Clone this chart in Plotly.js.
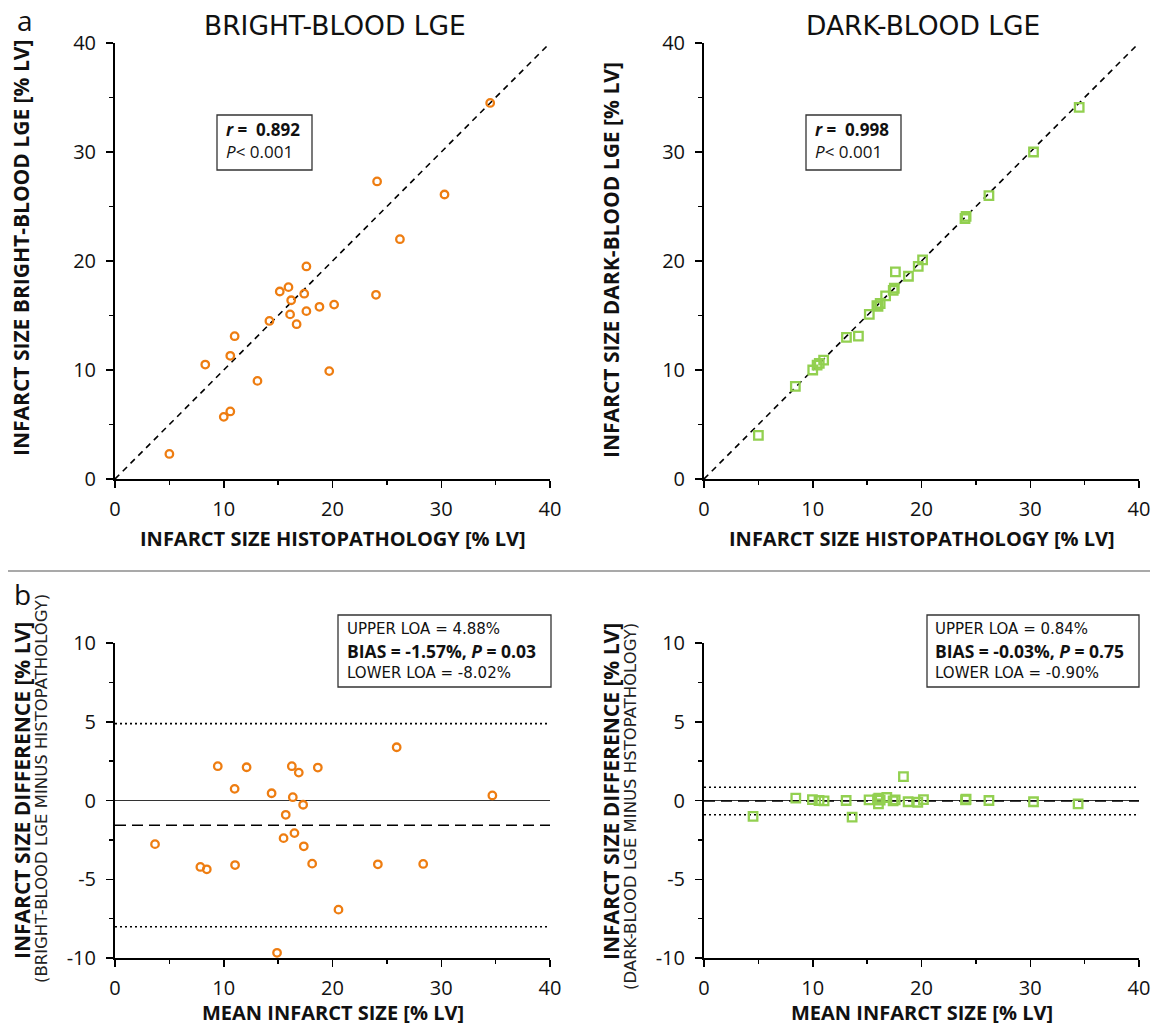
<!DOCTYPE html>
<html>
<head>
<meta charset="utf-8">
<script src="https://cdn.plot.ly/plotly-3.0.1.min.js"></script>
<style>
  html, body { margin: 0; padding: 0; background: #fff; }
  #chart { width: 1158px; height: 1027px; }
</style>
</head>
<body>
<div id="chart"></div>
<script>
// ---------- DATA ----------
// Panel a, left: histopathology vs bright-blood LGE
const histoBright = [34.5, 24.1, 30.3, 26.2, 17.6, 15.95, 15.15, 17.4, 16.2, 24.0, 20.15, 18.8, 17.6, 16.1, 14.2, 16.7, 11.0, 10.6, 8.3, 19.7, 13.1, 10.6, 10.0, 5.0];
const brightLGE   = [34.5, 27.3, 26.1, 22.0, 19.5, 17.6, 17.2, 17.0, 16.4, 16.9, 16.0, 15.8, 15.4, 15.1, 14.5, 14.2, 13.1, 11.3, 10.5, 9.9, 9.0, 6.2, 5.7, 2.3];
// Panel a, right: histopathology vs dark-blood LGE
const histoDark = [34.5, 30.3, 26.2, 24.0, 24.1, 20.1, 19.7, 17.6, 18.8, 17.5, 17.4, 16.7, 16.2, 16.0, 15.9, 15.2, 14.2, 13.1, 11.0, 10.6, 10.4, 10.0, 8.4, 5.0];
const darkLGE   = [34.1, 30.0, 26.0, 23.9, 24.1, 20.1, 19.5, 19.0, 18.6, 17.5, 17.3, 16.8, 16.1, 15.85, 15.9, 15.1, 13.1, 13.0, 10.9, 10.6, 10.45, 10.0, 8.5, 4.0];
// Identity line end points
const identity = [0, 40];
// Panel b, left: Bland-Altman bright-blood
const baBrightMean = [9.45, 12.1, 16.26, 16.9, 18.65, 25.9, 11.0, 14.4, 16.35, 17.3, 34.7, 15.7, 3.68, 15.5, 16.5, 17.36, 7.85, 8.44, 11.04, 18.13, 24.17, 28.34, 20.55, 14.9];
const baBrightDiff = [2.18, 2.11, 2.18, 1.77, 2.09, 3.38, 0.74, 0.46, 0.21, -0.27, 0.32, -0.91, -2.77, -2.39, -2.07, -2.91, -4.22, -4.37, -4.10, -4.01, -4.05, -4.03, -6.93, -9.67];
// Panel b, right: Bland-Altman dark-blood
const baDarkMean = [4.51, 8.44, 9.97, 10.58, 11.04, 13.07, 13.62, 15.18, 15.98, 16.04, 16.07, 16.2, 16.81, 17.39, 17.58, 18.34, 18.77, 19.66, 20.18, 24.05, 24.1, 26.2, 30.3, 34.4];
const baDarkDiff = [-1.01, 0.15, 0.06, 0.0, -0.02, 0.0, -1.06, 0.04, 0.08, -0.21, 0.15, 0.02, 0.19, -0.02, 0.04, 1.52, -0.08, -0.11, 0.06, 0.04, 0.08, 0.0, -0.08, -0.21];
// Limits of agreement [upper, bias, lower]
const brightLimits = [4.88, -1.57, -8.02];
const darkLimits   = [0.84, -0.03, -0.90];
// Tick labels
const scatterTicks = [0, 10, 20, 30, 40];
const scatterTickText = ['0', '10', '20', '30', '40'];
const diffTicks = [-10, -5, 0, 5, 10];
const diffTickText = ['-10', '-5', '0', '5', '10'];

// ---------- STYLE ----------
const W = 1158, H = 1027;
const px = v => v / W;
const py = v => 1 - v / H;
const ORANGE = '#EE7D11';
const GREEN = '#92D050';
const FONT = 'Open Sans, Liberation Sans, sans-serif';
const WIDE = 'DejaVu Sans, Open Sans, sans-serif';
const TXT = '#111';

const baseAxis = {
  showline: true, linecolor: '#000', linewidth: 2,
  ticks: 'outside', ticklen: 7, tickwidth: 1.5, tickcolor: '#000',
  showgrid: false, zeroline: false, mirror: false,
  tickfont: { family: FONT, size: 20, color: TXT },
  tickmode: 'array', fixedrange: true
};
function minorTicks(step) {
  return { tickmode: 'linear', tick0: 0, dtick: step, ticks: 'outside', ticklen: 4, tickwidth: 1.5, tickcolor: '#000', showgrid: false };
}
function xAx(domain, anchor) {
  return Object.assign({}, baseAxis, {
    domain: domain, anchor: anchor, range: [0, 40],
    tickvals: scatterTicks, ticktext: scatterTickText,
    minor: minorTicks(5), ticklabelstandoff: 4
  });
}
function yScatter(domain, anchor) {
  return Object.assign({}, baseAxis, {
    domain: domain, anchor: anchor, range: [0, 40],
    tickvals: scatterTicks, ticktext: scatterTickText,
    minor: minorTicks(5), ticklabelstandoff: 6
  });
}
function yDiff(domain, anchor) {
  return Object.assign({}, baseAxis, {
    domain: domain, anchor: anchor, range: [-10, 10],
    tickvals: diffTicks, ticktext: diffTickText,
    minor: minorTicks(2.5),
    zeroline: true, zerolinecolor: '#333', zerolinewidth: 1.2,
    ticklabelstandoff: 6
  });
}

const dX = { L: [px(115), px(550)], R: [px(704), px(1139)] };
const dY = { T: [py(479), py(43)], B: [py(958), py(643)] };

function hline(xa, ya, yv, dash, width) {
  return { x: identity, y: [yv, yv], xaxis: xa, yaxis: ya, mode: 'lines',
    line: { color: '#000', width: width, dash: dash }, hoverinfo: 'skip', showlegend: false };
}
const circle = { symbol: 'circle-open', size: 7.5, line: { color: ORANGE, width: 2.3 }, color: ORANGE };
const square = { symbol: 'square-open', size: 8.5, line: { color: GREEN, width: 2.3 }, color: GREEN };

const traces = [
  { x: identity, y: identity, xaxis: 'x', yaxis: 'y', mode: 'lines', line: { color: '#000', width: 1.6, dash: '6px,5px' }, showlegend: false, hoverinfo: 'skip' },
  { x: identity, y: identity, xaxis: 'x2', yaxis: 'y2', mode: 'lines', line: { color: '#000', width: 1.6, dash: '6px,5px' }, showlegend: false, hoverinfo: 'skip' },
  hline('x3', 'y3', brightLimits[0], '2px,3px', 1.6),
  hline('x3', 'y3', brightLimits[1], '11px,6px', 1.6),
  hline('x3', 'y3', brightLimits[2], '2px,3px', 1.6),
  hline('x4', 'y4', darkLimits[0], '2px,3px', 1.6),
  hline('x4', 'y4', darkLimits[1], '11px,6px', 1.6),
  hline('x4', 'y4', darkLimits[2], '2px,3px', 1.6),
  { x: histoBright, y: brightLGE, xaxis: 'x', yaxis: 'y', mode: 'markers', marker: circle, name: 'Bright-blood LGE', showlegend: false },
  { x: histoDark, y: darkLGE, xaxis: 'x2', yaxis: 'y2', mode: 'markers', marker: square, name: 'Dark-blood LGE', showlegend: false },
  { x: baBrightMean, y: baBrightDiff, xaxis: 'x3', yaxis: 'y3', mode: 'markers', marker: circle, name: 'Bright-blood difference', showlegend: false },
  { x: baDarkMean, y: baDarkDiff, xaxis: 'x4', yaxis: 'y4', mode: 'markers', marker: square, name: 'Dark-blood difference', showlegend: false }
];

function ann(text, x, y, opts) {
  return Object.assign({ text: text, xref: 'paper', yref: 'paper', x: px(x), y: py(y),
    xanchor: 'center', yanchor: 'middle', showarrow: false,
    font: { family: FONT, size: 18, color: TXT } }, opts || {});
}
const xTitleFont = { family: FONT, size: 20, color: TXT };
const yTitleFont = { family: FONT, size: 21, color: TXT };
const headFont = { family: WIDE, size: 26.5, color: TXT };
const boxFont = { family: WIDE, size: 15, color: TXT };
const boxBoldFont = { family: FONT, size: 17.5, color: TXT };
const rFont = { family: FONT, size: 17, color: TXT };
const subFont = { family: WIDE, size: 16.5, color: '#222' };

const annotations = [
  ann('a', 25, 20, { font: { family: FONT, size: 28, color: TXT } }),
  ann('b', 22, 594, { font: { family: FONT, size: 28, color: TXT } }),
  ann('BRIGHT-BLOOD LGE', 335, 25, { font: headFont }),
  ann('DARK-BLOOD LGE', 923, 25, { font: headFont }),
  ann('<b>INFARCT SIZE HISTOPATHOLOGY [% LV]</b>', 333, 538, { font: xTitleFont }),
  ann('<b>INFARCT SIZE HISTOPATHOLOGY [% LV]</b>', 922, 538, { font: xTitleFont }),
  ann('<b>MEAN INFARCT SIZE [% LV]</b>', 333, 1012, { font: xTitleFont }),
  ann('<b>MEAN INFARCT SIZE [% LV]</b>', 922, 1012, { font: xTitleFont }),
  ann('<b>INFARCT SIZE BRIGHT-BLOOD LGE [% LV]</b>', 21, 248, { font: yTitleFont, textangle: -90 }),
  ann('<b>INFARCT SIZE DARK-BLOOD LGE [% LV]</b>', 611, 260, { font: yTitleFont, textangle: -90 }),
  ann('<b>INFARCT SIZE DIFFERENCE [% LV]</b>', 22, 791, { font: yTitleFont, textangle: -90 }),
  ann('(BRIGHT-BLOOD LGE MINUS HISTOPATHOLOGY)', 41, 789, { font: subFont, textangle: -90 }),
  ann('<b>INFARCT SIZE DIFFERENCE [% LV]</b>', 611, 791, { font: yTitleFont, textangle: -90 }),
  ann('(DARK-BLOOD LGE MINUS HSTOPATHOLOGY)', 630, 807, { font: subFont, textangle: -90 }),
  ann('<b><i>r</i> =  0.892</b>', 224, 129, { xanchor: 'left', font: rFont }),
  ann('<i>P</i>< 0.001', 224, 152, { xanchor: 'left', font: rFont }),
  ann('<b><i>r</i> =  0.998</b>', 813, 129, { xanchor: 'left', font: rFont }),
  ann('<i>P</i>< 0.001', 813, 152, { xanchor: 'left', font: rFont }),
  ann('UPPER LOA = 4.88%', 345, 629, { xanchor: 'left', font: boxFont }),
  ann('<b>BIAS = -1.57%, <i>P</i> = 0.03</b>', 345, 651, { xanchor: 'left', font: boxBoldFont }),
  ann('LOWER LOA = -8.02%', 345, 673, { xanchor: 'left', font: boxFont }),
  ann('UPPER LOA = 0.84%', 933, 629, { xanchor: 'left', font: boxFont }),
  ann('<b>BIAS = -0.03%, <i>P</i> = 0.75</b>', 933, 651, { xanchor: 'left', font: boxBoldFont }),
  ann('LOWER LOA = -0.90%', 933, 673, { xanchor: 'left', font: boxFont })
];

function rect(x0, y0, x1, y1) {
  return { type: 'rect', xref: 'paper', yref: 'paper', x0: px(x0), x1: px(x1), y0: py(y1), y1: py(y0),
    line: { color: '#333', width: 1.3 }, fillcolor: 'rgba(0,0,0,0)', layer: 'above' };
}
const shapes = [
  rect(217, 115, 312, 170),
  rect(806, 115, 901, 170),
  rect(338, 615, 551, 687),
  rect(927, 615, 1139, 687),
  { type: 'line', xref: 'paper', yref: 'paper', x0: px(8), x1: px(1150), y0: py(571), y1: py(571),
    line: { color: '#555', width: 1.2 } }
];

const layout = {
  width: W, height: H,
  margin: { l: 0, r: 0, t: 0, b: 0 },
  paper_bgcolor: '#fff', plot_bgcolor: '#fff',
  showlegend: false,
  xaxis: xAx(dX.L, 'y'), yaxis: yScatter(dY.T, 'x'),
  xaxis2: xAx(dX.R, 'y2'), yaxis2: yScatter(dY.T, 'x2'),
  xaxis3: xAx(dX.L, 'y3'), yaxis3: yDiff(dY.B, 'x3'),
  xaxis4: xAx(dX.R, 'y4'), yaxis4: yDiff(dY.B, 'x4'),
  annotations: annotations,
  shapes: shapes
};

Plotly.newPlot('chart', traces, layout, { displayModeBar: false, staticPlot: true });
</script>
</body>
</html>
